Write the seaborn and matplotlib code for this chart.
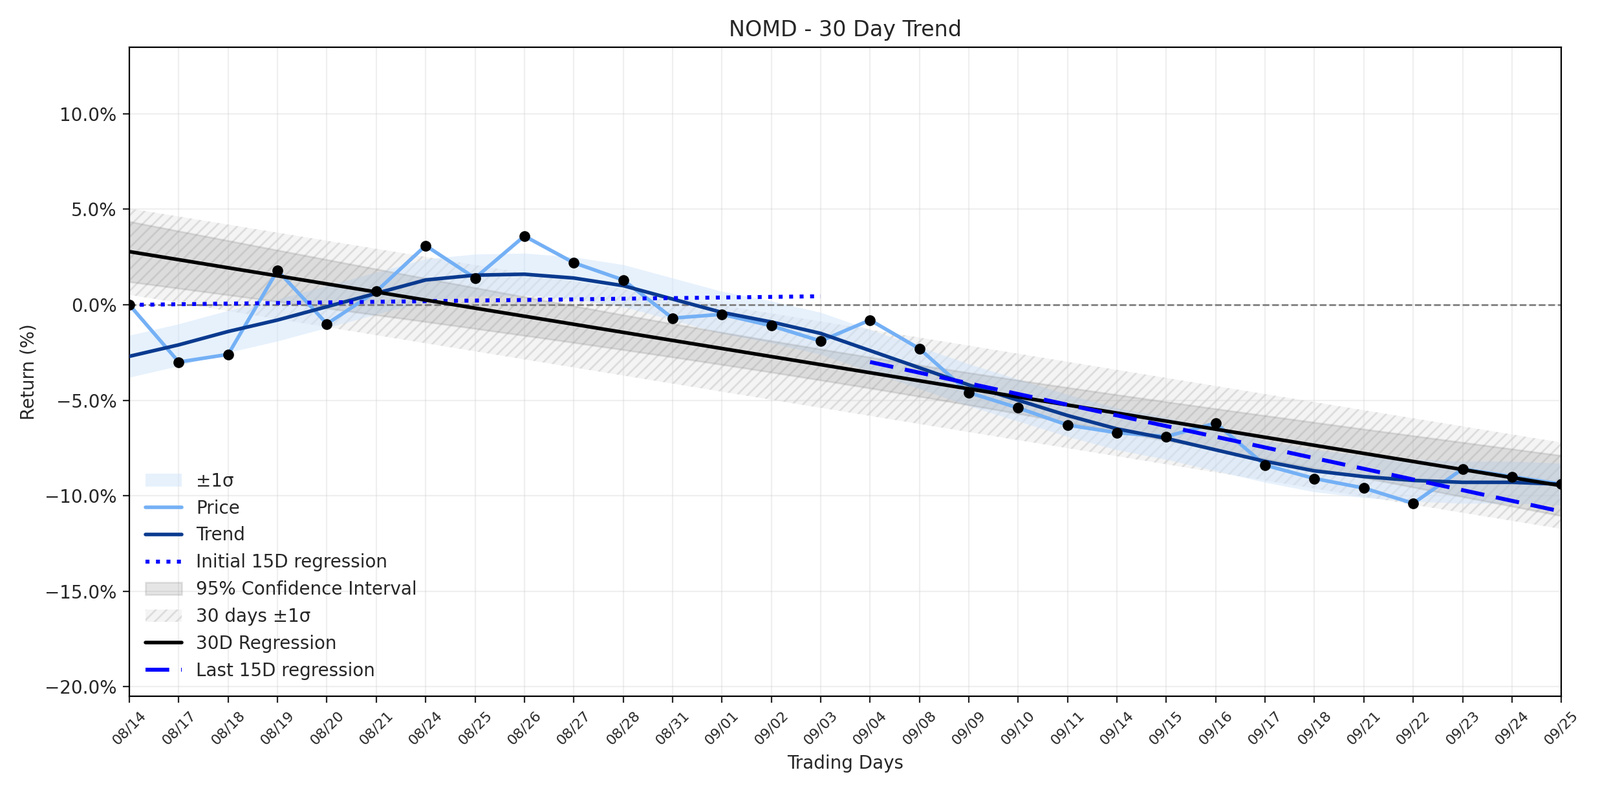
import matplotlib
matplotlib.use('Agg')
import matplotlib.pyplot as plt
import seaborn as sns
import numpy as np
from matplotlib.ticker import FuncFormatter

dates = ["08/14", "08/17", "08/18", "08/19", "08/20", "08/21", "08/24", "08/25", "08/26", "08/27",
         "08/28", "08/31", "09/01", "09/02", "09/03", "09/04", "09/08", "09/09", "09/10", "09/11",
         "09/14", "09/15", "09/16", "09/17", "09/18", "09/21", "09/22", "09/23", "09/24", "09/25"]
price = [0.0, -3.0, -2.6, 1.8, -1.0, 0.7, 3.1, 1.4, 3.6, 2.2,
         1.3, -0.7, -0.5, -1.1, -1.9, -0.8, -2.3, -4.6, -5.4, -6.3,
         -6.7, -6.9, -6.2, -8.4, -9.1, -9.6, -10.4, -8.6, -9.0, -9.4]
trend = [-2.7, -2.1, -1.4, -0.8, -0.1, 0.6, 1.3, 1.55, 1.6, 1.4,
         1.0, 0.3, -0.4, -0.9, -1.5, -2.4, -3.3, -4.2, -5.0, -5.8,
         -6.5, -7.0, -7.6, -8.2, -8.7, -9.0, -9.2, -9.3, -9.3, -9.4]
sigma_band = 1.1  # half-width of the ±1σ band around the trend

x = np.arange(len(dates))
price = np.array(price)
trend = np.array(trend)

sns.set_style("ticks")
fig, ax = plt.subplots(figsize=(12.37, 6.12), dpi=200)

# 30D regression + bands
b, a = np.polyfit(x, price, 1)
reg = a + b * x
resid_sd = np.std(price - reg, ddof=2)
xm = x.mean()
se = resid_sd * np.sqrt(1 / len(x) + (x - xm) ** 2 / ((x - xm) ** 2).sum())

ax.fill_between(x, trend - sigma_band, trend + sigma_band, color="#cfe4fb", alpha=0.5, lw=0, label="±1σ", zorder=1)
sns.lineplot(x=x, y=price, ax=ax, color="#74b0f5", lw=2, label="Price", zorder=3)
sns.lineplot(x=x, y=trend, ax=ax, color="#0a3a8f", lw=2, label="Trend", zorder=4)

b1, a1 = np.polyfit(x[:15], price[:15], 1)
ax.plot(x[:15], a1 + b1 * x[:15], color="blue", lw=2.2, ls=":", label="Initial 15D regression", zorder=4)

ax.fill_between(x, reg - 1.96 * se, reg + 1.96 * se, color="gray", alpha=0.2, label="95% Confidence Interval", zorder=1)
ax.fill_between(x, reg - resid_sd, reg + resid_sd, facecolor="#eeeeee", edgecolor="#cccccc",
                hatch="////", lw=0, alpha=0.6, label="30 days ±1σ", zorder=0)
ax.plot(x, reg, color="black", lw=2, label="30D Regression", zorder=5)

b2, a2 = np.polyfit(x[15:], price[15:], 1)
ax.plot(x[15:], a2 + b2 * x[15:], color="blue", lw=2.2, ls=(0, (6, 3)), label="Last 15D regression", zorder=5)

ax.axhline(0, color="gray", ls="--", lw=1, zorder=2)
ax.scatter(x, price, color="black", s=25, zorder=6)

ax.set_xlim(0, len(x) - 1)
ax.set_ylim(-20.5, 13.5)
ax.set_yticks(np.arange(-20, 11, 5))
ax.yaxis.set_major_formatter(FuncFormatter(lambda v, p: f"{v:.1f}%".replace("-", "\u2212")))
ax.set_xticks(x)
ax.set_xticklabels(dates, rotation=45, fontsize=8)
ax.tick_params(axis="y", labelsize=10)
ax.grid(True, alpha=0.3)
for s in ax.spines.values():
    s.set_visible(True)
    s.set_color("black")
ax.set_title("NOMD - 30 Day Trend", fontsize=12)
ax.set_xlabel("Trading Days", fontsize=10)
ax.set_ylabel("Return (%)", fontsize=10)
ax.legend(loc="lower left", frameon=False, fontsize=10)

plt.tight_layout()
plt.savefig("out.png", dpi=200)
